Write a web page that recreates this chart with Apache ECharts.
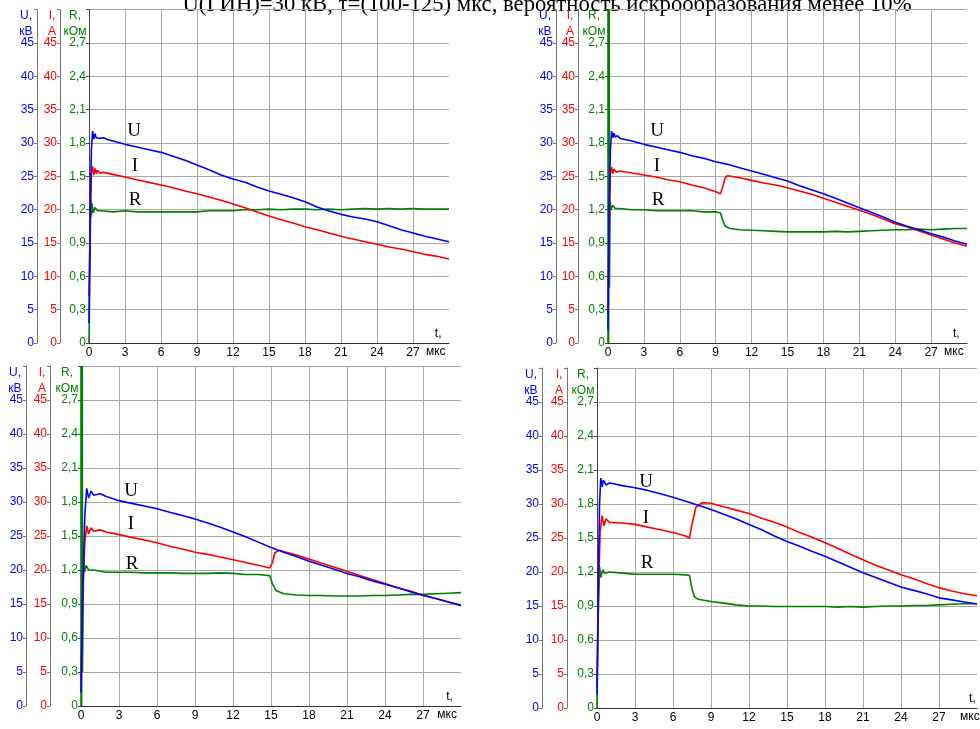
<!DOCTYPE html>
<html><head><meta charset="utf-8">
<script src="https://cdn.jsdelivr.net/npm/echarts@6/dist/echarts.min.js"></script>
<style>html,body{margin:0;padding:0;background:#fff}#c{width:980px;height:729px}</style>
</head><body><div id="c"></div>
<script>
// ---- data (t in µs; U in кВ; I in А; R in кОм) ----
const titleText = 'U(ГИН)=30 кВ, τ=(100-125) мкс, вероятность искрообразования менее 10%';
const xTicks = [0,3,6,9,12,15,18,21,24,27];
const uTicks = [0,5,10,15,20,25,30,35,40,45];
const rTicks = ['0','0,3','0,6','0,9','1,2','1,5','1,8','2,1','2,4','2,7'];

const uA = [[0,3],[0.1,20],[0.2,29],[0.3,31.8],[0.4,30.6],[0.5,31.4],[0.6,30.8],[0.7,31.1],[0.9,30.7],[1.2,30.8],[1.6,30.5],[2,30.3],[3,29.8],[4,29.4],[5,29.0],[6,28.6],[7,28.0],[8,27.4],[9,26.7],[10,26.0],[11,25.2],[12,24.6],[13,24.1],[14,23.4],[15,22.8],[16,22.3],[17,21.8],[18,21.2],[19,20.4],[20,19.8],[21,19.3],[22,18.9],[23,18.6],[24,18.2],[25,17.6],[26,17.0],[27,16.5],[28,16.0],[29,15.6],[30,15.2]];
const iA = [[0,7],[0.1,18],[0.2,25.5],[0.3,26.5],[0.4,25.2],[0.5,26.2],[0.6,25.4],[0.7,25.9],[0.9,25.5],[1.2,25.6],[2,25.3],[3,24.9],[4,24.5],[5,24.1],[6,23.7],[7,23.3],[8,22.8],[9,22.4],[10,21.9],[11,21.4],[12,20.85],[13,20.3],[14,19.65],[15,19.05],[16,18.5],[17,18.0],[18,17.45],[19,17.0],[20,16.5],[21,16.0],[22,15.6],[23,15.2],[24,14.8],[25,14.4],[26,14.1],[27,13.7],[28,13.3],[29,13.0],[30,12.6]];
const rA = [[0,0],[0.1,0.9],[0.15,1.29],[0.2,1.14],[0.25,1.26],[0.35,1.17],[0.5,1.22],[0.7,1.19],[1,1.19],[2,1.18],[3,1.19],[4,1.18],[5,1.18],[6,1.18],[7,1.18],[8,1.18],[9,1.18],[10,1.19],[11,1.19],[12,1.19],[13,1.2],[14,1.2],[15,1.205],[16,1.2],[17,1.205],[18,1.205],[19,1.2],[20,1.205],[21,1.2],[22,1.205],[23,1.21],[24,1.205],[25,1.21],[26,1.205],[27,1.21],[28,1.205],[29,1.205],[30,1.205]];

const uB = [[0,2],[0.1,20],[0.2,29],[0.3,31.8],[0.4,30.8],[0.5,31.5],[0.6,30.9],[0.8,31.1],[1,30.7],[1.5,30.5],[2,30.3],[3,29.8],[4,29.4],[5,29.0],[6,28.6],[7,28.1],[8,27.7],[9,27.2],[10,26.8],[11,26.3],[12,25.8],[13,25.3],[14,24.8],[15,24.3],[16,23.6],[17,23.0],[18,22.4],[19,21.7],[20,21.0],[21,20.3],[22,19.6],[23,18.9],[24,18.1],[25,17.5],[26,17.0],[27,16.4],[28,15.9],[29,15.3],[30,14.8]];
const iB = [[0,5],[0.1,18],[0.2,25.5],[0.3,26.4],[0.4,25.4],[0.5,26.1],[0.7,25.6],[1,25.8],[2,25.5],[3,25.2],[4,24.9],[5,24.5],[6,24.2],[7,23.7],[8,23.3],[9,22.7],[9.4,22.4],[9.6,23.5],[9.8,24.8],[10,25.1],[11,24.8],[12,24.4],[13,24.0],[14,23.7],[15,23.3],[16,22.8],[17,22.3],[18,21.7],[19,21.1],[20,20.5],[21,19.9],[22,19.3],[23,18.6],[24,17.9],[25,17.4],[26,16.8],[27,16.2],[28,15.6],[29,15.0],[30,14.5]];
const rB = [[0,0],[0,3],[0.05,3],[0.05,0],[0.1,0],[0.1,3],[0.12,3],[0.12,0.5],[0.18,1.28],[0.25,1.2],[0.4,1.24],[0.6,1.21],[1,1.21],[2,1.2],[3,1.2],[4,1.19],[5,1.19],[6,1.19],[7,1.19],[8,1.18],[9,1.18],[9.4,1.17],[9.6,1.1],[9.8,1.05],[10.2,1.03],[11,1.02],[12,1.015],[13,1.01],[14,1.005],[15,1.0],[16,1.0],[17,1.0],[18,1.0],[19,1.005],[20,1.0],[21,1.005],[22,1.01],[23,1.015],[24,1.02],[25,1.02],[26,1.025],[27,1.02],[28,1.025],[29,1.03],[30,1.03]];

const uC = [[0,2],[0.15,18],[0.3,28],[0.45,32],[0.6,30.6],[0.8,31.6],[1,31.0],[1.5,31.2],[2,30.8],[3,30.2],[4,29.8],[5,29.4],[6,29.0],[7,28.5],[8,28.0],[9,27.5],[10,26.9],[11,26.3],[12,25.6],[13,24.9],[14,24.1],[15,23.3],[16,22.6],[17,22.0],[18,21.3],[19,20.7],[20,20.1],[21,19.5],[22,19.0],[23,18.4],[24,17.9],[25,17.4],[26,16.8],[27,16.3],[28,15.8],[29,15.3],[30,14.8]];
const iC = [[0,4],[0.15,17],[0.3,24],[0.45,26.5],[0.6,25.3],[0.8,26.2],[1,25.7],[1.5,25.9],[2,25.6],[3,25.2],[4,24.8],[5,24.4],[6,24.0],[7,23.5],[8,23.1],[9,22.6],[10,22.3],[11,21.9],[12,21.5],[13,21.1],[14,20.7],[14.9,20.3],[15.1,21.0],[15.3,22.5],[15.6,22.9],[16,22.7],[17,22.2],[18,21.6],[19,21.0],[20,20.4],[21,19.8],[22,19.2],[23,18.6],[24,18.0],[25,17.4],[26,16.9],[27,16.3],[28,15.8],[29,15.3],[30,14.8]];
const rC = [[0,0],[0,3],[0.05,3],[0.05,0],[0.1,0],[0.1,3],[0.12,3],[0.12,0.3],[0.2,1.3],[0.28,1.18],[0.4,1.24],[0.6,1.2],[1,1.2],[2,1.18],[3,1.18],[4,1.18],[5,1.175],[6,1.175],[7,1.175],[8,1.17],[9,1.17],[10,1.17],[11,1.175],[12,1.17],[13,1.16],[14,1.16],[14.9,1.15],[15.1,1.08],[15.4,1.02],[16,0.99],[17,0.98],[18,0.975],[19,0.975],[20,0.97],[21,0.97],[22,0.97],[23,0.975],[24,0.975],[25,0.98],[26,0.985],[27,0.985],[28,0.99],[29,0.995],[30,1.0]];

const uD = [[0,2],[0.1,18],[0.2,30],[0.3,33.8],[0.4,32.5],[0.5,33.5],[0.7,32.8],[1,33.1],[1.5,32.9],[2,32.7],[3,32.4],[4,32.0],[5,31.5],[6,31.0],[7,30.4],[8,29.8],[9,29.2],[10,28.5],[11,27.8],[12,27.0],[13,26.2],[14,25.3],[15,24.5],[16,23.8],[17,23.0],[18,22.3],[19,21.5],[20,20.7],[21,19.9],[22,19.2],[23,18.5],[24,17.8],[25,17.3],[26,16.8],[27,16.2],[28,15.9],[29,15.6],[30,15.3]];
const iD = [[0,3],[0.1,16],[0.25,26],[0.4,28.3],[0.55,26.8],[0.7,27.8],[1,27.3],[2,27.2],[3,27.0],[4,26.6],[5,26.2],[6,25.8],[7,25.3],[7.3,25.0],[7.5,27.0],[7.8,29.5],[8.3,30.2],[9,30.1],[10,29.6],[11,29.1],[12,28.6],[13,27.9],[14,27.3],[15,26.6],[16,25.8],[17,25.1],[18,24.3],[19,23.5],[20,22.6],[21,21.8],[22,21.0],[23,20.3],[24,19.6],[25,19.0],[26,18.3],[27,17.7],[28,17.2],[29,16.8],[30,16.5]];
const rD = [[0,0],[0.1,0.8],[0.2,1.25],[0.3,1.15],[0.45,1.22],[0.6,1.19],[1,1.2],[2,1.19],[3,1.18],[4,1.18],[5,1.18],[6,1.18],[7,1.175],[7.3,1.17],[7.5,1.05],[7.7,0.98],[8,0.96],[9,0.94],[10,0.925],[11,0.91],[12,0.9],[13,0.9],[14,0.895],[15,0.895],[16,0.895],[17,0.895],[18,0.895],[19,0.89],[20,0.895],[21,0.89],[22,0.895],[23,0.9],[24,0.9],[25,0.905],[26,0.905],[27,0.91],[28,0.915],[29,0.92],[30,0.92]];

// ---- layout ----
const panels = [
  {left:89,  top:9.7, width:360, height:333.3, uOff:52, iOff:29, u:uA, i:iA, r:rA, lab:[134,131,135,166,135,200]},
  {left:608, top:9.7, width:359, height:333.3, uOff:52, iOff:30, u:uB, i:iB, r:rB, lab:[657,131,657,166,658,200]},
  {left:81,  top:366, width:380, height:340,   uOff:55, iOff:31, u:uC, i:iC, r:rC, lab:[131,491,131,524,132,564]},
  {left:597, top:368, width:387, height:340,   uOff:55, iOff:30, u:uD, i:iD, r:rD, lab:[646,482,646,518,647,563]}
];
const BLUE='#0000ff', RED='#ff0000', GREEN='#008000';
const SANS='"Liberation Sans", Arial, sans-serif';
const SERIF='"Liberation Serif", "Times New Roman", serif';

const grid=[], xAxis=[], yAxis=[], series=[], graphic=[];
graphic.push({type:'text', x:547, y:5.5, style:{text:titleText, font:'22.7px '+SERIF, fill:'#000', align:'center', verticalAlign:'middle'}});

panels.forEach((p, g) => {
  grid.push({left:p.left, top:p.top, width:p.width, height:p.height});
  xAxis.push({type:'value', gridIndex:g, min:0, max:30, interval:3,
    axisLine:{lineStyle:{color:'#333', width:1}}, axisTick:{show:false},
    axisLabel:{color:'#000', fontSize:12, fontFamily:SANS, margin:4,
      formatter:v => xTicks.includes(v) ? String(v) : ''},
    splitLine:{show:true, showMaxLine:false, lineStyle:{color:'#a8a8a8', width:1}}});
  const base = yAxis.length;
  yAxis.push({type:'value', gridIndex:g, min:0, max:3, interval:0.3, position:'left', offset:0,
    axisLine:{show:true, lineStyle:{color:'#444'}}, axisTick:{show:true, length:3, lineStyle:{color:'#444'}},
    axisLabel:{color:GREEN, fontSize:12, fontFamily:SANS, margin:3,
      formatter:v => { const k=Math.round(v/0.3); return k<rTicks.length ? rTicks[k] : ''; }},
    splitLine:{show:true, lineStyle:{color:'#a8a8a8', width:1}}});
  yAxis.push({type:'value', gridIndex:g, min:0, max:50, interval:5, position:'left', offset:p.iOff,
    axisLine:{show:true, lineStyle:{color:'#777'}}, axisTick:{show:true, length:3, lineStyle:{color:'#777'}},
    axisLabel:{color:RED, fontSize:12, fontFamily:SANS, margin:3,
      formatter:v => uTicks.includes(v) ? String(v) : ''}, splitLine:{show:false}});
  yAxis.push({type:'value', gridIndex:g, min:0, max:50, interval:5, position:'left', offset:p.uOff,
    axisLine:{show:true, lineStyle:{color:'#777'}}, axisTick:{show:true, length:3, lineStyle:{color:'#777'}},
    axisLabel:{color:BLUE, fontSize:12, fontFamily:SANS, margin:3,
      formatter:v => uTicks.includes(v) ? String(v) : ''}, splitLine:{show:false}});
  const ln = (data, yi, color, z) => ({type:'line', xAxisIndex:g, yAxisIndex:base+yi, data, showSymbol:false,
    lineStyle:{color, width:1.6}, itemStyle:{color}, z, animation:false, silent:true});
  series.push(ln(p.r, 0, GREEN, 2), ln(p.i, 1, RED, 3), ln(p.u, 2, BLUE, 4));

  const yTop = p.top + p.height*0.1;
  const axU = p.left - p.uOff, axI = p.left - p.iOff, axR = p.left;
  const nm = (txt, x, y, color) => graphic.push({type:'text', x, y, style:{text:txt, font:'12px '+SANS, fill:color, align:'center', verticalAlign:'middle'}});
  nm('U,', axU-11, yTop-27, BLUE); nm('кВ', axU-11, yTop-11, BLUE);
  nm('I,', axI-8, yTop-27, RED); nm('А', axI-8, yTop-11, RED);
  nm('R,', axR-14, yTop-27, GREEN); nm('кОм', axR-14, yTop-11, GREEN);
  nm('t,', p.left + p.width*29.1/30, p.top+p.height-9, '#000');
  nm('мкс', p.left + p.width*28.9/30, p.top+p.height+9, '#000');
  const sl = (txt, x, y) => graphic.push({type:'text', x, y, style:{text:txt, font:'19px '+SERIF, fill:'#000', align:'center', verticalAlign:'middle'}});
  sl('U', p.lab[0], p.lab[1]); sl('I', p.lab[2], p.lab[3]); sl('R', p.lab[4], p.lab[5]);
});

const chart = echarts.init(document.getElementById('c'), null, {renderer:'canvas'});
chart.setOption({animation:false, backgroundColor:'#fff', grid, xAxis, yAxis, series, graphic});
</script></body></html>
